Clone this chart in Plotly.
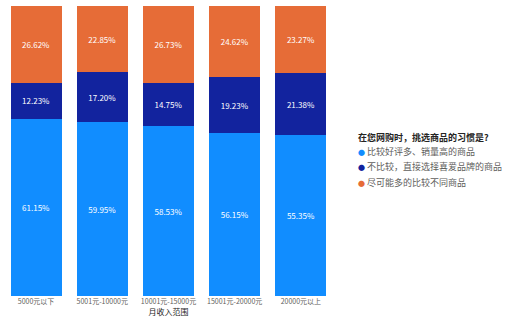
import plotly.graph_objects as go

categories = ["5000元以下", "5001元-10000元", "10001元-15000元", "15001元-20000元", "20000元以上"]
series_names = ["比较好评多、销量高的商品", "不比较，直接选择喜爱品牌的商品", "尽可能多的比较不同商品"]
legend_title = "在您网购时，挑选商品的习惯是?"
s1 = [61.15, 59.95, 58.53, 56.15, 55.35]
s2 = [12.23, 17.20, 14.75, 19.23, 21.38]
s3 = [26.62, 22.85, 26.73, 24.62, 23.27]
colors = ["#118DFF", "#12239E", "#E66C37"]

FONT = "Segoe UI, Noto Sans CJK SC, sans-serif"
fig = go.Figure()
for name, vals, c in zip(series_names, [s1, s2, s3], colors):
    fig.add_trace(go.Bar(
        x=categories, y=vals, name=name, marker=dict(color=c, line=dict(width=0)),
        text=[f"{v:.2f}%" for v in vals], textposition="inside", insidetextanchor="middle",
        textangle=0, textfont=dict(color="white", size=8, family=FONT), showlegend=False,
        hoverinfo="skip"))

# legend drawn as annotations (paper coords)
lx = 1.066
annotations = [dict(x=lx, y=0.545, xref="paper", yref="paper", xanchor="left", yanchor="middle",
                    text=f"<b>{legend_title}</b>", showarrow=False,
                    font=dict(size=9, color="#252423", family=FONT))]
for i, (name, c) in enumerate(zip(series_names, colors)):
    yy = 0.497 - i * 0.052
    annotations.append(dict(x=lx, y=yy, xref="paper", yref="paper", xanchor="left", yanchor="middle",
                            text=f"<span style='color:{c};font-size:7px'>●</span> {name}", showarrow=False,
                            font=dict(size=9, color="#605E5C", family=FONT)))

fig.update_layout(
    barmode="stack", bargap=0.227,
    width=507, height=324,
    margin=dict(l=3, r=173, t=6, b=28),
    plot_bgcolor="white", paper_bgcolor="white",
    font=dict(family=FONT, size=8, color="#605E5C"),
    uniformtext=dict(minsize=7, mode="show"),
    showlegend=False,
    annotations=annotations,
    xaxis=dict(showgrid=False, showline=False, ticks="", tickangle=0,
               tickfont=dict(size=7, color="#605E5C"),
               title=dict(text="月收入范围", font=dict(size=8, color="#252423"), standoff=2)),
    yaxis=dict(visible=False, range=[0, 100]),
)
fig.write_html("out.html")
